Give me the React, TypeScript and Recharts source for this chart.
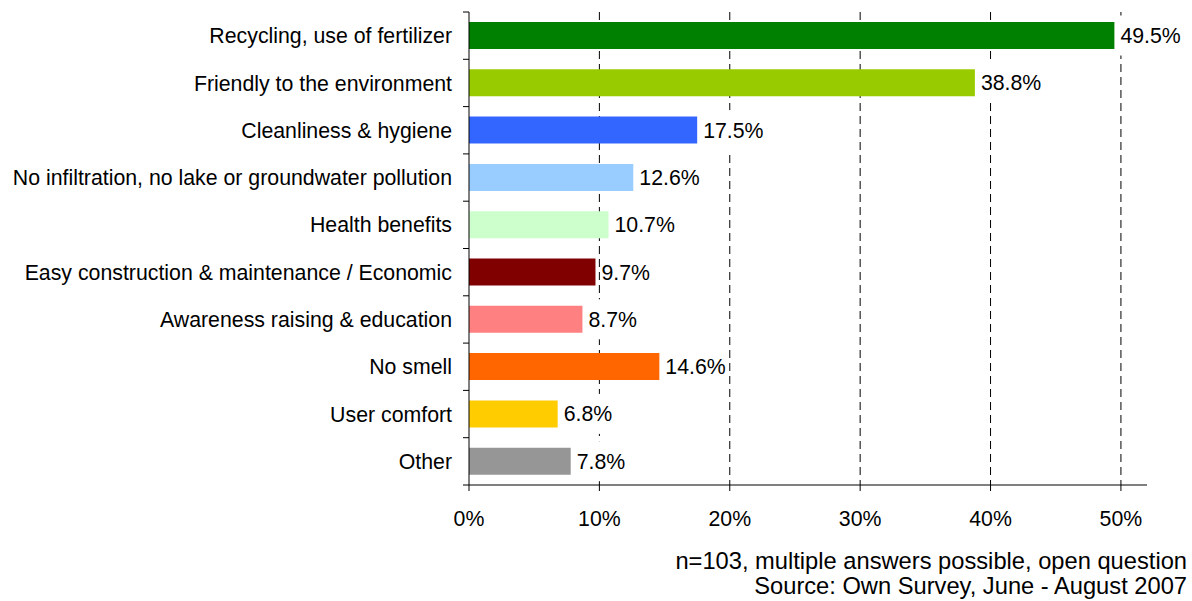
import { BarChart, Bar, XAxis, YAxis, CartesianGrid, Cell, LabelList } from "recharts";

const categories = [
  "Recycling, use of fertilizer",
  "Friendly to the environment",
  "Cleanliness & hygiene",
  "No infiltration, no lake or groundwater pollution",
  "Health benefits",
  "Easy construction & maintenance / Economic",
  "Awareness raising & education",
  "No smell",
  "User comfort",
  "Other",
];
const shares = [49.5, 38.8, 17.5, 12.6, 10.7, 9.7, 8.7, 14.6, 6.8, 7.8];
const barColors = [
  "#008000",
  "#99CC00",
  "#3366FF",
  "#99CCFF",
  "#CCFFCC",
  "#800000",
  "#FF8080",
  "#FF6600",
  "#FFCC00",
  "#969696",
];
const xTicks = [0, 10, 20, 30, 40, 50];
const xMax = 52;
const footnotes = ["n=103, multiple answers possible, open question", "Source: Own Survey, June - August 2007"];

const data = categories.map((name, i) => ({ name, value: shares[i], color: barColors[i] }));

const FONT = "'Liberation Sans', Arial, sans-serif";
const FS = 21.3;
const W = 1192;
const H = 601;
const MARGIN = { top: 12, right: 45, bottom: 66, left: 0 };
const Y_WIDTH = 469;
const X_HEIGHT = 50;
const HALF_BAND = (H - MARGIN.top - MARGIN.bottom - X_HEIGHT) / categories.length / 2;
const LABEL_GAP = 17;

// rough Arial advance widths, used for the white box behind each value label
const charWidth = (c: string) => (c === "." ? 0.278 : c === "%" ? 0.889 : 0.556);

function CategoryTick(props: any) {
  const { x, y, payload, index } = props;
  const ax = x + LABEL_GAP;
  const last = index === categories.length - 1;
  return (
    <g>
      <line x1={ax - 6} x2={ax} y1={y - HALF_BAND} y2={y - HALF_BAND} stroke="#000" />
      {last && <line x1={ax - 6} x2={ax} y1={y + HALF_BAND} y2={y + HALF_BAND} stroke="#000" />}
      <text x={x} y={y} dy="0.355em" textAnchor="end" fontSize={FS} fill="#000" fontFamily={FONT}>
        {payload.value}
      </text>
    </g>
  );
}

function ValueLabel(props: any) {
  const { x, y, width, height, value } = props;
  const label = `${Number(value).toFixed(1)}%`;
  const tw = label.split("").reduce((s, c) => s + charWidth(c) * FS, 0);
  const lx = x + width + 6;
  const cy = y + height / 2;
  return (
    <g>
      <rect x={lx - 1} y={cy - 20} width={tw + 2} height={40} fill="#fff" />
      <text x={lx} y={cy} dy="0.355em" fontSize={FS} fill="#000" fontFamily={FONT}>
        {label}
      </text>
    </g>
  );
}

export default function App() {
  return (
    <div style={{ position: "absolute", left: 0, top: 0, width: W, height: H, background: "#fff", fontFamily: FONT }}>
      <BarChart width={W} height={H} data={data} layout="vertical" margin={MARGIN} barCategoryGap={0}>
        <CartesianGrid
          horizontal={false}
          stroke="#000"
          strokeDasharray="8 5"
          verticalCoordinatesGenerator={({ offset }: any) =>
            xTicks.filter((t) => t > 0).map((t) => offset.left + (t / xMax) * offset.width)
          }
        />
        <XAxis
          type="number"
          domain={[0, xMax]}
          ticks={xTicks}
          tickFormatter={(v) => `${v}%`}
          height={X_HEIGHT}
          tick={{ fontSize: FS, fill: "#000", fontFamily: FONT }}
          axisLine={{ stroke: "#000" }}
          tickLine={{ stroke: "#000" }}
          tickSize={6}
          tickMargin={20}
          allowDataOverflow
        />
        <YAxis
          type="category"
          dataKey="name"
          width={Y_WIDTH}
          tick={<CategoryTick />}
          tickLine={false}
          tickSize={0}
          tickMargin={LABEL_GAP}
          axisLine={{ stroke: "#000" }}
          interval={0}
        />
        <Bar dataKey="value" barSize={27} isAnimationActive={false}>
          {data.map((d) => (
            <Cell key={d.name} fill={d.color} />
          ))}
          <LabelList dataKey="value" content={<ValueLabel />} />
        </Bar>
      </BarChart>
      {footnotes.map((t, i) => (
        <div
          key={t}
          style={{
            position: "absolute",
            right: 5,
            top: 549 + i * 25,
            fontSize: 23.7,
            lineHeight: "25px",
            color: "#000",
            whiteSpace: "nowrap",
          }}
        >
          {t}
        </div>
      ))}
    </div>
  );
}
